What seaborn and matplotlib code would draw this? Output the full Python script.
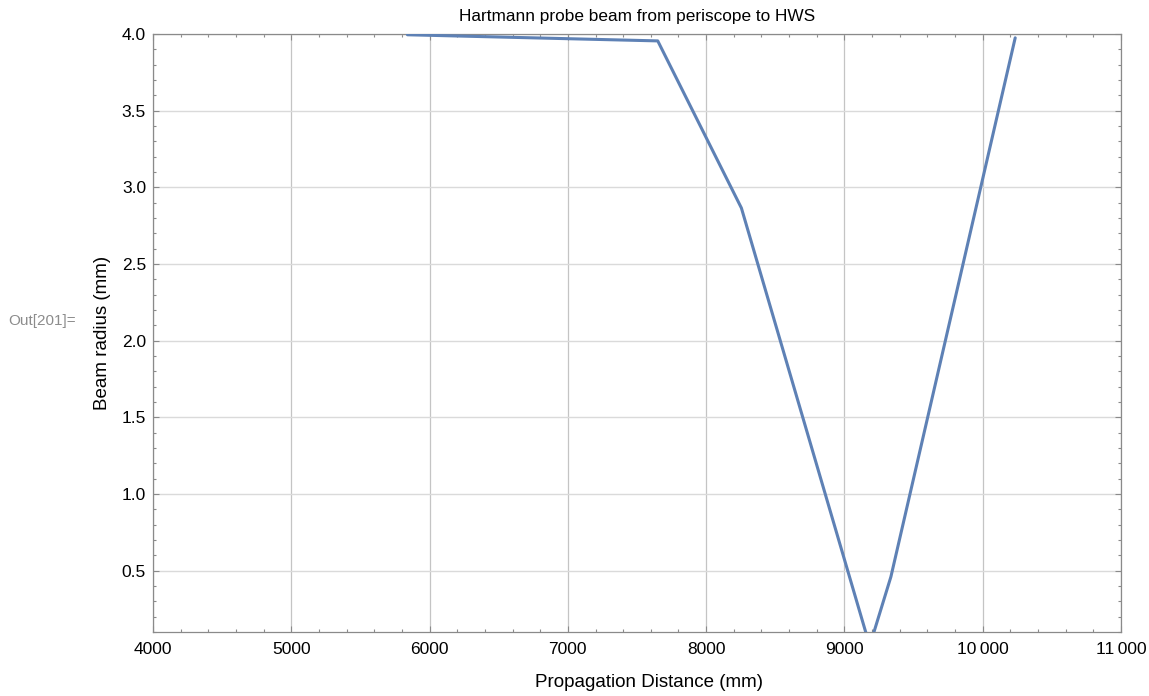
import matplotlib
matplotlib.use("Agg")
import matplotlib.pyplot as plt
import seaborn as sns
import pandas as pd
from matplotlib.ticker import FixedLocator, FixedFormatter, MultipleLocator

# Beam radius along the probe path (mm)
distance_mm = [5840, 7650, 8255, 9183, 9336, 10235]
radius_mm = [3.995, 3.955, 2.865, 0.01, 0.46, 3.975]

x_ticks = [4000, 5000, 6000, 7000, 8000, 9000, 10000, 11000]
x_tick_labels = ["4000", "5000", "6000", "7000", "8000", "9000", "10\u2009000", "11\u2009000"]
y_ticks = [0.5, 1.0, 1.5, 2.0, 2.5, 3.0, 3.5, 4.0]
y_tick_labels = ["0.5", "1.0", "1.5", "2.0", "2.5", "3.0", "3.5", "4.0"]

title = "Hartmann probe beam from periscope to HWS"
x_label = "Propagation Distance (mm)"
y_label = "Beam radius (mm)"
cell_label = "Out[201]="

sns.set_theme(style="ticks")
plt.rcParams["font.family"] = ["Liberation Sans", "DejaVu Sans"]

df = pd.DataFrame({"distance": distance_mm, "radius": radius_mm})

fig = plt.figure(figsize=(11.49, 6.96), dpi=100)
ax = fig.add_axes([153 / 1149, 1 - 632 / 696, (1121 - 153) / 1149, (632 - 34) / 696])

sns.lineplot(data=df, x="distance", y="radius", sort=False, ax=ax,
             color="#5E81B5", linewidth=2.2, zorder=3)

ax.set_xlim(4000, 11000)
ax.set_ylim(0.1, 4.0)

ax.xaxis.set_major_locator(FixedLocator(x_ticks))
ax.xaxis.set_major_formatter(FixedFormatter(x_tick_labels))
ax.yaxis.set_major_locator(FixedLocator(y_ticks))
ax.yaxis.set_major_formatter(FixedFormatter(y_tick_labels))
ax.xaxis.set_minor_locator(MultipleLocator(200))
ax.yaxis.set_minor_locator(MultipleLocator(0.1))

ax.grid(True, which="major", axis="x", color="#c4c4c4", linewidth=0.9)
ax.grid(True, which="major", axis="y", color="#dadada", linewidth=1.0)

for side in ["left", "right", "top", "bottom"]:
    ax.spines[side].set_visible(True)
    ax.spines[side].set_color("#8a8a8a")
    ax.spines[side].set_linewidth(0.9)

ax.tick_params(which="both", direction="in", top=True, right=True,
               color="#8a8a8a", width=0.8)
ax.tick_params(which="major", length=4.5, labelsize=12.5, labelcolor="black", pad=5)
ax.tick_params(which="minor", length=2.5)
ax.tick_params(axis="x", which="major", pad=7)
ax.tick_params(labeltop=False, labelright=False)

ax.set_xlabel(x_label, fontsize=13.5, color="black")
ax.xaxis.set_label_coords(0.5125, -0.070)
ax.set_ylabel(y_label, fontsize=13.5, color="black", labelpad=8)
ax.set_title(title, fontsize=12.4, color="black", pad=9)

fig.text(8 / 1149, 1 - 321 / 696, cell_label, fontsize=11, color="#8c8c8c",
         ha="left", va="center")

fig.savefig("out.png", dpi=100)
